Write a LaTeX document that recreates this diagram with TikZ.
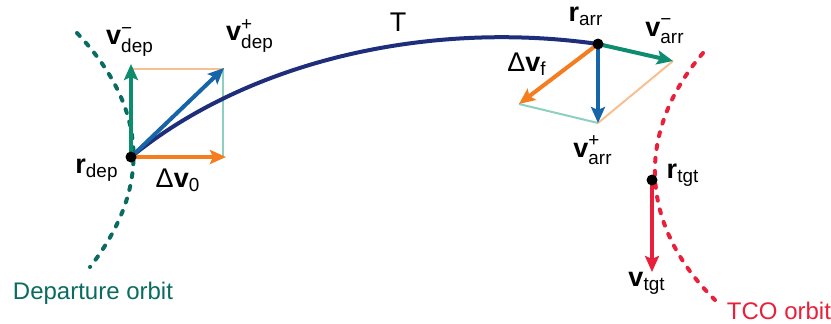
\documentclass[tikz,border=0pt]{standalone}
\usepackage{amsmath}
\usepackage{fontspec}
\setmainfont{Liberation Sans}
\usetikzlibrary{arrows.meta}
\definecolor{arcblue}{RGB}{31,46,122}
\definecolor{vgreen}{RGB}{14,140,112}
\definecolor{vblue}{RGB}{21,101,168}
\definecolor{vorange}{RGB}{244,125,32}
\definecolor{lorange}{RGB}{248,192,145}
\definecolor{lgreen}{RGB}{140,208,192}
\definecolor{deporb}{RGB}{10,107,96}
\definecolor{tcored}{RGB}{232,32,58}
\newcommand{\vlab}[3]{\textbf{#1}$^{\text{#2}}_{\text{#3}}$}
\newcommand{\rlab}[2]{\textbf{#1}$_{\text{#2}}$}
\tikzset{
  vec/.style={line width=2pt,-{Stealth[length=8pt,width=7pt,inset=1.5pt]}},
  thin/.style={line width=1pt},
  orbit/.style={line width=2pt,line cap=round,dash pattern=on 2pt off 4.5pt},
  dot/.style={circle,fill=black,inner sep=0pt,minimum size=5.5pt},
  lab/.style={font=\fontsize{12}{14}\selectfont,inner sep=0pt},
  vlabel/.style={font=\fontsize{13.5}{16}\selectfont,inner sep=0pt}
}
\begin{document}
\begin{tikzpicture}[x=0.5pt,y=-0.5pt]
\useasboundingbox (0,0) rectangle (831,323);
% 位置点
\coordinate (rdep) at (131,157);
\coordinate (vdepm) at (131,64);
\coordinate (vdepp) at (224,68);
\coordinate (dv0) at (226,157);
\coordinate (corner0) at (223,69);
\coordinate (rarr) at (598,44);
\coordinate (varrm) at (673,61);
\coordinate (varrp) at (598,123);
\coordinate (dvf) at (519,104);
\coordinate (rtgt) at (652,180);
\coordinate (vtgt) at (652,272);
% 轨道（虚线）
\draw[orbit,deporb] (77,33) .. controls (150,110) and (150,190) .. (90,267);
\draw[orbit,tcored] (703,53) .. controls (637,130) and (637,223) .. (715,300);
% 平行四边形细线
\draw[thin,lorange] (131,69) -- (corner0);
\draw[thin,lgreen] (corner0) -- (223,157);
\draw[thin,lgreen] (dvf) -- (varrp);
\draw[thin,lorange] (varrp) -- (varrm);
% 转移弧 T
\draw[line width=2pt,arcblue] (rdep) .. controls (250,60) and (430,20) .. (rarr);
% 速度矢量
\draw[vec,vgreen] (rdep) -- (vdepm);
\draw[vec,vblue] (rdep) -- (vdepp);
\draw[vec,vorange] (rdep) -- (dv0);
\draw[vec,vgreen] (rarr) -- (varrm);
\draw[vec,vblue] (rarr) -- (varrp);
\draw[vec,vorange] (rarr) -- (dvf);
\draw[vec,tcored] (rtgt) -- (vtgt);
% 点
\node[dot] at (rdep) {};
\node[dot] at (rarr) {};
\node[dot] at (rtgt) {};
% 标注
\node[vlabel] (lvdepm) at (130,42) {\vlab{v}{−}{dep}};
\node[vlabel] (lvdepp) at (250,36) {\vlab{v}{+}{dep}};
\node[vlabel] (lrdep) at (97,170) {\rlab{r}{dep}};
\node[vlabel] (ldv0) at (178,180) {Δ\rlab{v}{0}};
\node[vlabel] (lT) at (398,22) {T};
\node[vlabel] (lrarr) at (586,16) {\rlab{r}{arr}};
\node[vlabel] (lvarrm) at (665,31) {\vlab{v}{−}{arr}};
\node[vlabel] (ldvf) at (527,64) {Δ\rlab{v}{f}};
\node[vlabel] (lvarrp) at (593,150) {\vlab{v}{+}{arr}};
\node[vlabel] (lrtgt) at (683,175) {\rlab{r}{tgt}};
\node[vlabel] (lvtgt) at (647,283) {\rlab{v}{tgt}};
\node[lab,text=deporb] (ldep) at (93,293) {Departure orbit};
\node[lab,text=tcored] (ltco) at (779,311) {TCO orbit};
\end{tikzpicture}
\end{document}
